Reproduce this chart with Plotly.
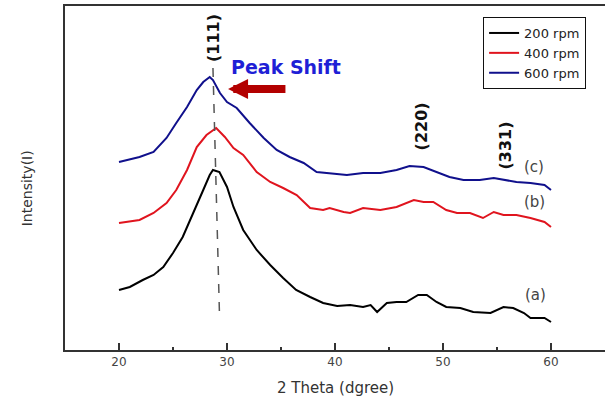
import plotly.graph_objects as go

# ---- data (2 theta in degrees, intensity in arbitrary offset units) ----
x_200 = [20, 21, 22.2, 23.2, 24.1, 25, 25.9, 26.9, 27.8, 28.4, 28.7, 29.3, 30, 30.6, 31.5,
         32.75, 34, 35.2, 36.4, 37.7, 38.9, 40.2, 41.4, 42.6, 43.3, 43.9, 44.8, 45.7, 46.6,
         47.7, 48.5, 49.4, 50.3, 51.6, 52.8, 54.4, 55.6, 56.5, 57.5, 58.1, 59.4, 60]
y_200 = [60, 63, 70, 75, 83, 97, 113, 137, 160, 175, 180, 178, 163, 143, 120,
         100, 85, 72, 60, 53, 47, 44, 45, 43, 45, 38, 47, 48, 48,
         55, 55, 48, 43, 42, 38, 37, 43, 42, 37, 32, 32, 28]

x_400 = [20, 21.9, 23.2, 24.4, 25.3, 26.3, 27.2, 28.1, 29.0, 29.8, 30.6, 31.5, 32.75, 34,
         35.2, 36.45, 37.7, 38.9, 39.5, 40.8, 41.4, 42.6, 44.2, 45.7, 47.3, 48.2, 49.1,
         50.3, 51.3, 52.5, 53.7, 54.7, 55.6, 56.8, 58.1, 59.4, 60]
y_400 = [127, 130, 137, 147, 160, 180, 203, 215, 222, 213, 202, 195, 178, 168,
         162, 155, 142, 140, 142, 138, 137, 142, 140, 143, 150, 148, 148,
         140, 137, 137, 132, 138, 135, 135, 132, 128, 123]

x_600 = [20, 21.9, 23.2, 24.4, 25.3, 26.3, 27.2, 27.8, 28.4, 28.7, 29.35, 30, 30.9, 32.1,
         33.4, 34.6, 35.8, 37.1, 38.3, 39.5, 41.1, 42.6, 44.2, 45.7, 46.9, 48.2, 49.4,
         50.6, 51.9, 53.4, 54.7, 55.6, 56.8, 58.1, 59.4, 60]
y_600 = [188, 193, 198, 212, 227, 243, 260, 268, 273, 270, 257, 248, 242, 227,
         212, 200, 193, 187, 178, 177, 175, 177, 177, 180, 184, 183, 178,
         173, 170, 170, 172, 170, 168, 167, 165, 160]

series_names = ["200 rpm", "400 rpm", "600 rpm"]
series_colors = ["#000000", "#e0141e", "#10108c"]

guide_x = [28.7, 29.3]
guide_y = [282, 37]

x_ticks = [20, 30, 40, 50, 60]
peak_labels = ["(111)", "(220)", "(331)"]
peak_x = [28.7, 48.0, 55.7]
peak_y = [312, 224, 204]
curve_labels = ["(a)", "(b)", "(c)"]
curve_label_x = [58.6, 58.5, 58.4]
curve_label_y = [55, 148, 183]

fig = go.Figure()
for xs, ys, name, col in zip([x_200, x_400, x_600], [y_200, y_400, y_600],
                             series_names, series_colors):
    fig.add_trace(go.Scatter(x=xs, y=ys, mode="lines", name=name,
                             line=dict(color=col, width=2)))

fig.add_trace(go.Scatter(x=guide_x, y=guide_y, mode="lines", showlegend=False,
                         line=dict(color="#555555", width=1.5, dash="dash")))

annotations = []
for t, xx, yy in zip(peak_labels, peak_x, peak_y):
    annotations.append(dict(x=xx, y=yy, text="<b>%s</b>" % t, showarrow=False,
                            textangle=-90, xanchor="center", yanchor="middle",
                            font=dict(family="DejaVu Sans", size=16, color="#111111")))
for t, xx, yy in zip(curve_labels, curve_label_x, curve_label_y):
    annotations.append(dict(x=xx, y=yy, text=t, showarrow=False,
                            xanchor="center", yanchor="middle",
                            font=dict(family="DejaVu Sans", size=15, color="#444444")))
annotations.append(dict(x=35.5, y=283, text="<b>Peak Shift</b>", showarrow=False,
                        xanchor="center", yanchor="middle",
                        font=dict(family="DejaVu Sans", size=19, color="#1f1fd6")))
annotations.append(dict(x=30.1, y=261, ax=35.55, ay=261, axref="x", ayref="y",
                        text="", showarrow=True, arrowhead=2, arrowwidth=8,
                        arrowsize=0.5, arrowcolor="#b30000"))
annotations.append(dict(xref="paper", yref="paper", x=-0.0704, y=0.47,
                        text="Intensity(I)", showarrow=False, textangle=-90,
                        xanchor="center", yanchor="middle",
                        font=dict(family="DejaVu Sans", size=14, color="#333333")))
annotations.append(dict(xref="paper", yref="paper", x=0.5, y=-0.11,
                        text="2 Theta (dgree)", showarrow=False,
                        xanchor="center", yanchor="middle",
                        font=dict(family="DejaVu Sans", size=15, color="#333333")))

fig.update_layout(
    width=605, height=400,
    margin=dict(l=65, r=0, t=6, b=50),
    paper_bgcolor="white", plot_bgcolor="white",
    annotations=annotations,
    legend=dict(x=0.965, y=0.968, xanchor="right", yanchor="top",
                bordercolor="#111111", borderwidth=1, bgcolor="white",
                entrywidth=82, entrywidthmode="pixels",
                font=dict(family="DejaVu Sans", size=13, color="#222222")),
)
fig.update_xaxes(range=[15, 65], tickvals=x_ticks, ticks="inside", ticklen=7,
                 tickcolor="#333333", tickwidth=1.5,
                 minor=dict(dtick=5, tick0=0, ticks="inside", ticklen=3,
                            tickcolor="#333333"),
                 showline=True, linecolor="#333333", linewidth=1.5, mirror=True,
                 showgrid=False, zeroline=False,
                 tickfont=dict(family="DejaVu Sans", size=12, color="#444444"))
fig.update_yaxes(range=[0, 344], showticklabels=False, ticks="", showgrid=False,
                 zeroline=False, showline=True, linecolor="#333333", linewidth=1.5)

fig.write_html("out.html", config={"displayModeBar": False},
               post_script="document.body.style.margin='0';document.body.style.overflow='hidden';")
